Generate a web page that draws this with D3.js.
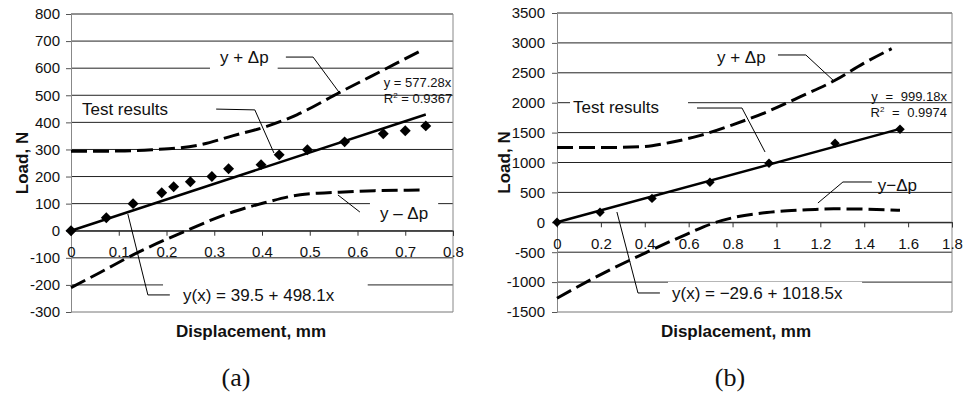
<!DOCTYPE html>
<html>
<head>
<meta charset="utf-8">
<script src="https://cdn.jsdelivr.net/npm/d3@7"></script>
<style>
body { margin: 0; background: #fff; }
svg { display: block; font-family: "Liberation Sans", Arial, sans-serif; }
</style>
</head>
<body>
<div id="entry"></div>
<script>
// ---- panel (a) ----
var dispA = [0, 0.074, 0.13, 0.19, 0.215, 0.25, 0.295, 0.33, 0.398, 0.436, 0.495, 0.573, 0.654, 0.70, 0.743];
var loadA = [0, 48, 100, 140, 162, 181, 200, 229, 244, 280, 299, 328, 358, 369, 387];
var upperXA = [0, 0.1, 0.17, 0.27, 0.34, 0.41, 0.473, 0.562, 0.675, 0.73];
var upperYA = [293, 294, 299, 317, 351, 385, 428, 510, 612, 662];
var lowerXA = [0, 0.06, 0.13, 0.236, 0.34, 0.405, 0.48, 0.56, 0.636, 0.73];
var lowerYA = [-210, -155, -89, -4, 70, 103, 133, 142, 148, 150];
var slopeA = 577.28;
var xTicksA = [0, 0.1, 0.2, 0.3, 0.4, 0.5, 0.6, 0.7, 0.8];
var xLabelsA = ["0", "0.1", "0.2", "0.3", "0.4", "0.5", "0.6", "0.7", "0.8"];
var yTicksA = [-300, -200, -100, 0, 100, 200, 300, 400, 500, 600, 700, 800];

// ---- panel (b) ----
var dispB = [0, 0.196, 0.433, 0.697, 0.966, 1.267, 1.563];
var loadB = [0, 167, 400, 670, 987, 1321, 1555];
var upperXB = [0, 0.2, 0.39, 0.515, 0.65, 0.8, 0.955, 1.107, 1.267, 1.395, 1.525];
var upperYB = [1250, 1250, 1265, 1335, 1450, 1630, 1845, 2096, 2375, 2653, 2904];
var lowerXB = [0, 0.21, 0.41, 0.59, 0.7, 0.8, 0.956, 1.107, 1.26, 1.4, 1.563];
var lowerYB = [-1270, -853, -500, -200, -30, 75, 165, 205, 225, 220, 200];
var slopeB = 999.18;
var xTicksB = [0, 0.2, 0.4, 0.6, 0.8, 1, 1.2, 1.4, 1.6, 1.8];
var xLabelsB = ["0", "0.2", "0.4", "0.6", "0.8", "1", "1.2", "1.4", "1.6", "1.8"];
var yTicksB = [-1500, -1000, -500, 0, 500, 1000, 1500, 2000, 2500, 3000, 3500];

var svg = d3.select("#entry").append("svg")
  .attr("width", 964)
  .attr("height", 396);

function zip(xs, ys) { return xs.map(function(x, i) { return [x, ys[i]]; }); }

function drawPanel(p) {
  var x = d3.scaleLinear().domain(p.xDomain).range(p.xRange);
  var y = d3.scaleLinear().domain(p.yDomain).range(p.yRange);
  var g = svg.append("g");
  var gGrid = g.append("g"), gBox = g.append("g"), gData = g.append("g"), gText = g.append("g");

  // gridlines
  gGrid.selectAll("line.grid")
    .data(p.yTicks)
    .enter().append("line")
    .attr("x1", p.xRange[0]).attr("x2", p.xRange[1])
    .attr("y1", function(d) { return y(d); }).attr("y2", function(d) { return y(d); })
    .attr("stroke", function(d, i) { return i == 0 ? "#777" : "#222"; })
    .attr("stroke-width", 1);

  // right border
  gGrid.append("line")
    .attr("x1", p.xRange[1]).attr("x2", p.xRange[1])
    .attr("y1", p.yRange[0]).attr("y2", p.yRange[1])
    .attr("stroke", "#888");

  var yAxis = d3.axisLeft(y).tickValues(p.yTicks).tickSize(5).tickPadding(p.yPad)
    .tickFormat(function(d) { return String(d); });
  var ya = gGrid.append("g")
    .attr("transform", "translate(" + p.xRange[0] + ",0)")
    .call(yAxis);
  ya.attr("font-size", 15).attr("font-family", "Liberation Sans, Arial, sans-serif");
  ya.select(".domain").attr("stroke", "#888");
  ya.selectAll(".tick line").attr("stroke", "#555");
  ya.selectAll("text").attr("fill", "#111");

  var xAxis = d3.axisBottom(x).tickValues(p.xTicks).tickSize(5).tickPadding(11)
    .tickFormat(function(d, i) { return p.xLabels[i]; });
  var xa = gData.append("g")
    .attr("transform", "translate(0," + y(0) + ")")
    .call(xAxis);
  xa.attr("font-size", 15).attr("font-family", "Liberation Sans, Arial, sans-serif");
  xa.select(".domain").attr("stroke", "#222");
  xa.selectAll(".tick line").attr("stroke", "#333");
  xa.selectAll("text").attr("fill", "#111");

  var line = d3.line()
    .x(function(d) { return x(d[0]); })
    .y(function(d) { return y(d[1]); });
  var curve = d3.line()
    .x(function(d) { return x(d[0]); })
    .y(function(d) { return y(d[1]); })
    .curve(d3.curveMonotoneX);

  [p.upper, p.lower].forEach(function(s) {
    gData.append("path")
      .datum(s)
      .attr("d", curve)
      .attr("fill", "none")
      .attr("stroke", "#000")
      .attr("stroke-width", 3)
      .attr("stroke-dasharray", "16,6");
  });

  var xmax = d3.max(p.disp);
  gData.append("path")
    .datum([[0, 0], [xmax, p.slope * xmax]])
    .attr("d", line)
    .attr("fill", "none")
    .attr("stroke", "#000")
    .attr("stroke-width", 2.5);

  gData.selectAll("path.pt")
    .data(zip(p.disp, p.load))
    .enter().append("path")
    .attr("d", d3.symbol().type(d3.symbolSquare).size(p.markSize))
    .attr("transform", function(d) { return "translate(" + x(d[0]) + "," + y(d[1]) + ") rotate(45)"; })
    .attr("fill", "#000");

  // annotations with leader lines
  p.notes.forEach(function(n) {
    var t = gText.append("text")
      .attr("x", x(n.at[0])).attr("y", y(n.at[1]))
      .attr("dy", "0.35em")
      .attr("font-size", 17)
      .attr("fill", "#111")
      .text(n.text);
    if (n.box) {
      var b = t.node().getBBox();
      gBox.append("rect")
        .attr("x", b.x - n.box[0]).attr("y", b.y - 2)
        .attr("width", b.width + n.box[0] + n.box[1]).attr("height", b.height + 4)
        .attr("fill", "#fff");
    }
    gText.append("path")
      .datum(n.leader)
      .attr("d", line)
      .attr("fill", "none")
      .attr("stroke", "#000")
      .attr("stroke-width", 1);
  });

  // trendline equation
  gText.append("text")
    .attr("x", x(p.eqAt[0])).attr("y", y(p.eqAt[1]))
    .attr("font-size", 13).attr("fill", "#111")
    .attr("text-anchor", p.eqAnchor)
    .attr("word-spacing", p.eqSpace)
    .text("y = " + p.slope + "x");
  var r2 = gText.append("text")
    .attr("x", x(p.eqAt[0])).attr("y", y(p.eqAt[1]) + 16)
    .attr("font-size", 13).attr("fill", "#111")
    .attr("text-anchor", p.eqAnchor)
    .attr("word-spacing", p.eqSpace);
  r2.append("tspan").text("R");
  r2.append("tspan").attr("font-size", 8).attr("dy", -5).text("2");
  r2.append("tspan").attr("dy", 5).text(" = " + p.r2);

  // axis titles
  svg.append("text")
    .attr("x", p.titleX).attr("y", 331)
    .attr("dy", "0.35em")
    .attr("text-anchor", "middle")
    .attr("font-size", 17).attr("font-weight", "bold").attr("fill", "#111")
    .text("Displacement, mm");
  svg.append("text")
    .attr("transform", "translate(" + p.loadX + "," + ((p.yRange[0] + p.yRange[1]) / 2) + ") rotate(-90)")
    .attr("dy", "0.35em")
    .attr("text-anchor", "middle")
    .attr("font-size", 17).attr("font-weight", "bold").attr("fill", "#111")
    .text("Load, N");
  svg.append("text")
    .attr("x", p.capX).attr("y", 377)
    .attr("dy", "0.35em")
    .attr("text-anchor", "middle")
    .attr("font-family", "Liberation Serif, Times New Roman, serif")
    .attr("font-size", 26).attr("fill", "#111")
    .text(p.caption);
}

drawPanel({
  xDomain: [0, 0.8], xRange: [71, 453],
  yDomain: [-300, 800], yRange: [312, 14],
  xTicks: xTicksA, xLabels: xLabelsA, yTicks: yTicksA, yPad: 6,
  disp: dispA, load: loadA, slope: slopeA, r2: "0.9367",
  upper: zip(upperXA, upperYA), lower: zip(lowerXA, lowerYA),
  markSize: 60,
  eqAt: [0.655, 530], eqAnchor: "start", eqSpace: 0,
  notes: [
    { text: "y + \u0394p", at: [0.312, 641], box: [10, 9], leader: [[0.450, 641], [0.507, 641], [0.561, 512]] },
    { text: "Test results", at: [0.023, 449], leader: [[0.304, 449], [0.385, 446], [0.425, 287]] },
    { text: "y \u2013 \u0394p", at: [0.647, 65], box: [10, 10], leader: [[0.605, 69], [0.559, 132]] },
    { text: "y(x) = 39.5 + 498.1x", at: [0.2346, -237], box: [20, 33], leader: [[0.119, 62], [0.161, -237], [0.207, -237]] }
  ],
  titleX: 251, loadX: 22, capX: 236, caption: "(a)"
});

drawPanel({
  xDomain: [0, 1.8], xRange: [557, 952],
  yDomain: [-1500, 3500], yRange: [312, 13],
  xTicks: xTicksB, xLabels: xLabelsB, yTicks: yTicksB, yPad: 7,
  disp: dispB, load: loadB, slope: slopeB, r2: "0.9974",
  upper: zip(upperXB, upperYB), lower: zip(lowerXB, lowerYB),
  markSize: 45,
  eqAt: [1.777, 2030], eqAnchor: "end", eqSpace: 4,
  notes: [
    { text: "y + \u0394p", at: [0.729, 2764], leader: [[1.007, 2798], [1.134, 2798], [1.267, 2346]] },
    { text: "Test results", at: [0.073, 1928], box: [3, 29], leader: [[0.638, 1911], [0.843, 1911], [0.948, 1176]] },
    { text: "y\u2212\u0394p", at: [1.462, 624], leader: [[1.435, 674], [1.303, 674], [1.189, 323]] },
    { text: "y(x) = \u221229.6 + 1018.5x", at: [0.524, -1180], box: [4, 19], leader: [[0.273, 172], [0.369, -1182], [0.469, -1182]] }
  ],
  titleX: 736, loadX: 504, capX: 730, caption: "(b)"
});
</script>
</body>
</html>
